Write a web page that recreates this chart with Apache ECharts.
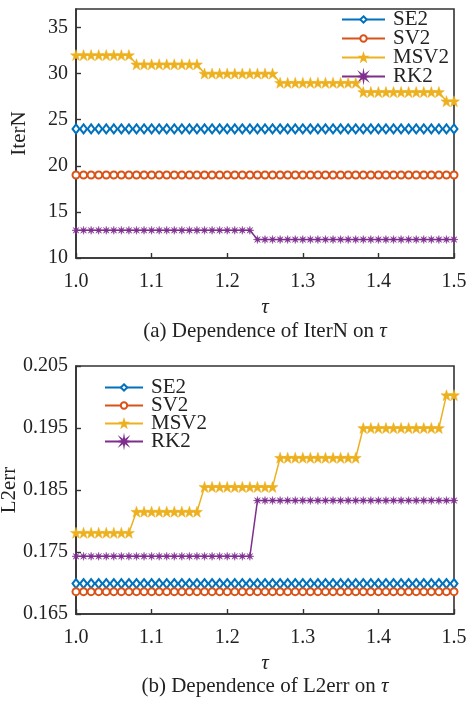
<!DOCTYPE html>
<html>
<head>
<meta charset="utf-8">
<script src="https://cdn.jsdelivr.net/npm/echarts@6/dist/echarts.min.js"></script>
<style>html,body{margin:0;padding:0;background:#fff}#c{width:466px;height:704px}</style>
</head>
<body>
<div id="c"></div>
<script>
const tau = [1.00,1.01,1.02,1.03,1.04,1.05,1.06,1.07,1.08,1.09,1.10,1.11,1.12,1.13,1.14,1.15,1.16,1.17,1.18,1.19,1.20,1.21,1.22,1.23,1.24,1.25,1.26,1.27,1.28,1.29,1.30,1.31,1.32,1.33,1.34,1.35,1.36,1.37,1.38,1.39,1.40,1.41,1.42,1.43,1.44,1.45,1.46,1.47,1.48,1.49,1.50];

const iterSE2 = [24,24,24,24,24,24,24,24,24,24,24,24,24,24,24,24,24,24,24,24,24,24,24,24,24,24,24,24,24,24,24,24,24,24,24,24,24,24,24,24,24,24,24,24,24,24,24,24,24,24,24];
const iterSV2 = [19,19,19,19,19,19,19,19,19,19,19,19,19,19,19,19,19,19,19,19,19,19,19,19,19,19,19,19,19,19,19,19,19,19,19,19,19,19,19,19,19,19,19,19,19,19,19,19,19,19,19];
const iterMSV2 = [32,32,32,32,32,32,32,32,31,31,31,31,31,31,31,31,31,30,30,30,30,30,30,30,30,30,30,29,29,29,29,29,29,29,29,29,29,29,28,28,28,28,28,28,28,28,28,28,28,27,27];
const iterRK2 = [13,13,13,13,13,13,13,13,13,13,13,13,13,13,13,13,13,13,13,13,13,13,13,13,12,12,12,12,12,12,12,12,12,12,12,12,12,12,12,12,12,12,12,12,12,12,12,12,12,12,12];

const errSE2 = [0.1699,0.1699,0.1699,0.1699,0.1699,0.1699,0.1699,0.1699,0.1699,0.1699,0.1699,0.1699,0.1699,0.1699,0.1699,0.1699,0.1699,0.1699,0.1699,0.1699,0.1699,0.1699,0.1699,0.1699,0.1699,0.1699,0.1699,0.1699,0.1699,0.1699,0.1699,0.1699,0.1699,0.1699,0.1699,0.1699,0.1699,0.1699,0.1699,0.1699,0.1699,0.1699,0.1699,0.1699,0.1699,0.1699,0.1699,0.1699,0.1699,0.1699,0.1699];
const errSV2 = [0.1686,0.1686,0.1686,0.1686,0.1686,0.1686,0.1686,0.1686,0.1686,0.1686,0.1686,0.1686,0.1686,0.1686,0.1686,0.1686,0.1686,0.1686,0.1686,0.1686,0.1686,0.1686,0.1686,0.1686,0.1686,0.1686,0.1686,0.1686,0.1686,0.1686,0.1686,0.1686,0.1686,0.1686,0.1686,0.1686,0.1686,0.1686,0.1686,0.1686,0.1686,0.1686,0.1686,0.1686,0.1686,0.1686,0.1686,0.1686,0.1686,0.1686,0.1686];
const errMSV2 = [0.1781,0.1781,0.1781,0.1781,0.1781,0.1781,0.1781,0.1781,0.1815,0.1815,0.1815,0.1815,0.1815,0.1815,0.1815,0.1815,0.1815,0.1855,0.1855,0.1855,0.1855,0.1855,0.1855,0.1855,0.1855,0.1855,0.1855,0.1902,0.1902,0.1902,0.1902,0.1902,0.1902,0.1902,0.1902,0.1902,0.1902,0.1902,0.1950,0.1950,0.1950,0.1950,0.1950,0.1950,0.1950,0.1950,0.1950,0.1950,0.1950,0.2003,0.2003];
const errRK2 = [0.1743,0.1743,0.1743,0.1743,0.1743,0.1743,0.1743,0.1743,0.1743,0.1743,0.1743,0.1743,0.1743,0.1743,0.1743,0.1743,0.1743,0.1743,0.1743,0.1743,0.1743,0.1743,0.1743,0.1743,0.1833,0.1833,0.1833,0.1833,0.1833,0.1833,0.1833,0.1833,0.1833,0.1833,0.1833,0.1833,0.1833,0.1833,0.1833,0.1833,0.1833,0.1833,0.1833,0.1833,0.1833,0.1833,0.1833,0.1833,0.1833,0.1833,0.1833];

const seriesNames = ['SE2','SV2','MSV2','RK2'];
const captionA = '(a) Dependence of IterN on {i|τ}';
const captionB = '(b) Dependence of L2err on {i|τ}';

const FONT = '"Liberation Serif","Times New Roman",serif';
const AX = '#333';
const colors = ['#0072BD','#D95319','#EDB120','#7E2F8E'];

function starPath(n, ro, ri) {
  let d = '';
  for (let k = 0; k < 2*n; k++) {
    const r = k % 2 === 0 ? ro : ri;
    const a = -Math.PI/2 + k*Math.PI/n;
    d += (k === 0 ? 'M' : 'L') + (r*Math.cos(a)).toFixed(3) + ',' + (r*Math.sin(a)).toFixed(3) + ' ';
  }
  return 'path://' + d + 'Z';
}
const STAR = starPath(5, 10, 4);
const AST = starPath(8, 10, 3.2);

const symbols = ['emptyDiamond','emptyCircle',STAR,AST];
const sizes = [[7,9],7,11,8];

function mk(vals, i, gi) {
  return {
    name: seriesNames[i], type: 'line', xAxisIndex: gi, yAxisIndex: gi,
    data: tau.map((t, k) => [t, vals[k]]),
    symbol: symbols[i], symbolSize: sizes[i], showAllSymbol: true,
    lineStyle: {width: 1.5, color: colors[i]},
    itemStyle: {color: colors[i], borderColor: colors[i], borderWidth: i < 2 ? 1.3 : 0.5},
    emphasis: {disabled: true}, animation: false, z: 3 + i
  };
}

const xAx = (gi) => ({
  type: 'value', gridIndex: gi, min: 1, max: 1.5, interval: 0.1,
  name: 'τ', nameLocation: 'middle', nameGap: 39,
  nameTextStyle: {fontFamily: FONT, fontSize: 21, fontStyle: 'italic', color: '#222'},
  axisLine: {show: true, lineStyle: {color: AX, width: 1.6}},
  axisTick: {show: true, inside: true, length: 5, lineStyle: {color: AX, width: 1.4}},
  axisLabel: {fontFamily: FONT, fontSize: 20, color: '#222', margin: 14, formatter: v => v.toFixed(1)},
  splitLine: {show: false}
});

function legendItem(i, left, top, w) {
  return {
    orient: 'vertical', left: left, top: top, padding: 0, itemWidth: w, itemHeight: 8,
    data: [seriesNames[i]], selectedMode: false,
    textStyle: {fontFamily: FONT, fontSize: 21, color: '#222', padding: [0,0,0,3]}
  };
}
const topRows = [9, 28, 47, 66];
const botRows = [377, 395, 413, 431];

const option = {
  animation: false,
  backgroundColor: '#fff',
  color: colors,
  grid: [
    {left: 76, right: 12, top: 9, height: 249, show: true, borderColor: AX, borderWidth: 1.6, backgroundColor: 'transparent', outerBoundsMode: 'none', containLabel: false},
    {left: 76, right: 12, top: 366, height: 248, show: true, borderColor: AX, borderWidth: 1.6, backgroundColor: 'transparent', outerBoundsMode: 'none', containLabel: false}
  ],
  xAxis: [xAx(0), xAx(1)],
  yAxis: [
    {type: 'value', gridIndex: 0, min: 10, max: 37, interval: 5,
     name: 'IterN', nameLocation: 'middle', nameGap: 46, nameMoveOverlap: false,
     nameTextStyle: {fontFamily: FONT, fontSize: 21, color: '#222'},
     axisLine: {show: true, lineStyle: {color: AX, width: 1.6}},
     axisTick: {show: true, inside: true, length: 5, lineStyle: {color: AX, width: 1.4}},
     axisLabel: {fontFamily: FONT, fontSize: 20, color: '#222', margin: 8, showMaxLabel: false,
       formatter: v => (v % 5 === 0 ? String(v) : '')},
     splitLine: {show: false}},
    {type: 'value', gridIndex: 1, min: 0.165, max: 0.205, interval: 0.01,
     name: 'L2err', nameLocation: 'middle', nameGap: 56, nameMoveOverlap: false,
     nameTextStyle: {fontFamily: FONT, fontSize: 21, color: '#222'},
     axisLine: {show: true, lineStyle: {color: AX, width: 1.6}},
     axisTick: {show: true, inside: true, length: 5, lineStyle: {color: AX, width: 1.4}},
     axisLabel: {fontFamily: FONT, fontSize: 20, color: '#222', margin: 8, formatter: v => v.toFixed(3)},
     splitLine: {show: false}}
  ],
  legend: [0,1,2,3].map(i => legendItem(i, 341, topRows[i], 43))
    .concat([0,1,2,3].map(i => legendItem(i, 104, botRows[i], 38))),
  graphic: [
    {type: 'text', x: 265, y: 331, style: {text: captionA, align: 'center', verticalAlign: 'middle',
      fontFamily: FONT, fontSize: 21, fill: '#222',
      rich: {i: {fontFamily: FONT, fontSize: 21, fontStyle: 'italic', fill: '#222'}}}},
    {type: 'text', x: 265, y: 686, style: {text: captionB, align: 'center', verticalAlign: 'middle',
      fontFamily: FONT, fontSize: 21, fill: '#222',
      rich: {i: {fontFamily: FONT, fontSize: 21, fontStyle: 'italic', fill: '#222'}}}}
  ],
  series: [
    mk(iterSE2, 0, 0), mk(iterSV2, 1, 0), mk(iterMSV2, 2, 0), mk(iterRK2, 3, 0),
    mk(errSE2, 0, 1), mk(errSV2, 1, 1), mk(errMSV2, 2, 1), mk(errRK2, 3, 1)
  ]
};
const chart = echarts.init(document.getElementById('c'), null, {renderer: 'canvas'});
chart.setOption(option);
</script>
</body>
</html>
